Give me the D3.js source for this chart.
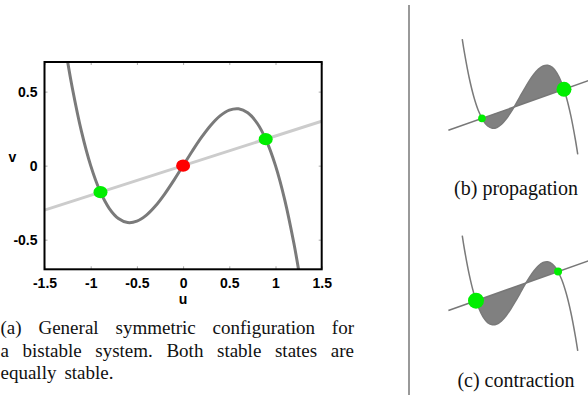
<!DOCTYPE html>
<html>
<head>
<meta charset="utf-8">
<script src="https://cdn.jsdelivr.net/npm/d3@7"></script>
<style>
  html, body { margin: 0; padding: 0; background: #fff; }
  svg { display: block; }
</style>
</head>
<body>
<svg id="fig" width="588" height="399"></svg>
<script>
// ticks
const uTicks = [-1.5, -1, -0.5, 0, 0.5, 1, 1.5];
const vTicks = [-0.5, 0, 0.5];

// cubic nullcline
const curveU = [-1.25, -1.2, -1.1, -1.0, -0.9, -0.8, -0.7, -0.6, -0.5, -0.4, -0.3, -0.2, -0.1, 0,
  0.1, 0.2, 0.3, 0.4, 0.5, 0.6, 0.7, 0.8, 0.9, 1.0, 1.1, 1.2, 1.25];
const curveV = [0.703, 0.528, 0.231, 0, -0.171, -0.288, -0.357, -0.384, -0.375, -0.336, -0.273, -0.192, -0.099, 0,
  0.099, 0.192, 0.273, 0.336, 0.375, 0.384, 0.357, 0.288, 0.171, 0, -0.231, -0.528, -0.703];

// straight nullcline (two end points)
const lineA = [[-1.5, -0.3], [1.5, 0.3]];
const lineB = [[-1.55, -0.41], [1.6, 0.22]];
const lineC = [[-1.55, -0.21], [1.6, 0.42]];

// fixed points
const pointsA = [
  { u: -0.894, v: -0.179, color: '#00ee00' },
  { u: 0, v: 0, color: '#ff0000' },
  { u: 0.894, v: 0.179, color: '#00ee00' }
];
const rootsB = [-0.824, 0.952];
const rootsC = [-0.952, 0.824];
const dotRadiusB = [3.8, 7.5];
const dotRadiusC = [8, 4];

const captionA = ['(a) General symmetric configuration for', 'a bistable system. Both stable states are', 'equally stable.'];
const captionB = '(b) propagation';
const captionC = '(c) contraction';

const svg = d3.select('#fig');
const cubic = curveU.map((u, i) => ({ u, v: curveV[i] }));

// ---------- panel (a) ----------
const x = d3.scaleLinear().domain([-1.5, 1.5]).range([44.5, 321.7]);
const y = d3.scaleLinear().domain([-0.7, 0.7]).range([269.3, 62]);

svg.append('clipPath').attr('id', 'clipA')
  .append('rect')
  .attr('x', x(-1.5)).attr('y', y(0.7))
  .attr('width', x(1.5) - x(-1.5)).attr('height', y(-0.7) - y(0.7));

const plotA = svg.append('g').attr('clip-path', 'url(#clipA)');

plotA.append('path')
  .datum(lineA)
  .attr('d', d3.line().x((d) => x(d[0])).y((d) => y(d[1])))
  .attr('fill', 'none')
  .attr('stroke', '#cccccc')
  .attr('stroke-width', 3);

plotA.append('path')
  .datum(cubic)
  .attr('d', d3.line().x((d) => x(d.u)).y((d) => y(d.v)).curve(d3.curveCatmullRom.alpha(0.5)))
  .attr('fill', 'none')
  .attr('stroke', '#7a7a7a')
  .attr('stroke-width', 3);

plotA.selectAll('.fp')
  .data(pointsA)
  .join('ellipse')
  .attr('class', 'fp')
  .attr('cx', (d) => x(d.u))
  .attr('cy', (d) => y(d.v))
  .attr('rx', 7)
  .attr('ry', 6.2)
  .attr('fill', (d) => d.color);

const tickText = (d) => String(d);

function styleAxis(g, showText) {
  g.select('.domain').remove();
  g.selectAll('.tick line').attr('stroke', '#aaaaaa').attr('stroke-width', 1);
  g.selectAll('.tick text')
    .attr('fill', '#000')
    .attr('font-family', '"Liberation Sans", Arial, sans-serif')
    .attr('font-weight', 'bold')
    .attr('font-size', 14)
    .style('display', showText ? null : 'none');
}

svg.append('g')
  .attr('transform', `translate(0,${y(-0.7)})`)
  .call(d3.axisBottom(x).tickValues(uTicks).tickSize(-3).tickPadding(8.5).tickFormat(tickText))
  .call((g) => styleAxis(g, true));

svg.append('g')
  .attr('transform', `translate(0,${y(0.7)})`)
  .call(d3.axisTop(x).tickValues(uTicks).tickSize(-3))
  .call((g) => styleAxis(g, false));

svg.append('g')
  .attr('transform', `translate(${x(-1.5)},0)`)
  .call(d3.axisLeft(y).tickValues(vTicks).tickSize(-3).tickPadding(7).tickFormat(tickText))
  .call((g) => styleAxis(g, true));

svg.append('g')
  .attr('transform', `translate(${x(1.5)},0)`)
  .call(d3.axisRight(y).tickValues(vTicks).tickSize(-3))
  .call((g) => styleAxis(g, false));

svg.append('rect')
  .attr('x', x(-1.5)).attr('y', y(0.7))
  .attr('width', x(1.5) - x(-1.5)).attr('height', y(-0.7) - y(0.7))
  .attr('fill', 'none')
  .attr('stroke', '#000')
  .attr('stroke-width', 2);

const sansBold = (sel) => sel
  .attr('font-family', '"Liberation Sans", Arial, sans-serif')
  .attr('font-weight', 'bold')
  .attr('font-size', 14)
  .attr('text-anchor', 'middle');

svg.append('text').attr('x', x(0)).attr('y', 304).text('u').call(sansBold);
svg.append('text').attr('x', 12.5).attr('y', 162).text('v').call(sansBold);

// justified caption for (a)
const serif = '"Liberation Serif", "Times New Roman", serif';
const capLeft = 0.5;
const capRight = 354;
const capBase = [334, 356.5, 378.5];
captionA.forEach((line, li) => {
  const words = line.split(' ');
  const g = svg.append('g');
  const nodes = words.map((w) => g.append('text')
    .attr('font-family', serif)
    .attr('font-size', 19)
    .attr('fill', '#111')
    .attr('y', capBase[li])
    .text(w));
  const widths = nodes.map((n) => n.node().getComputedTextLength());
  const total = d3.sum(widths);
  const last = li === captionA.length - 1;
  const gap = last ? 8 : (capRight - capLeft - total) / (words.length - 1);
  let cx = capLeft;
  nodes.forEach((n, i) => {
    n.attr('x', cx);
    cx += widths[i] + gap;
  });
});

// separator
svg.append('line')
  .attr('x1', 409).attr('x2', 409)
  .attr('y1', 5).attr('y2', 395)
  .attr('stroke', '#555')
  .attr('stroke-width', 1.2);

// ---------- panels (b) and (c) ----------
const xs = d3.scaleLinear().domain([-1.5, 1.5]).range([450.7, 589.3]);

function drawSmall(top, lineEnds, roots, radii, caption, capY) {
  const ys = d3.scaleLinear().domain([-0.7, 0.7]).range([top + 114.8, top]);
  const lineV = d3.scaleLinear().domain(lineEnds.map((d) => d[0])).range(lineEnds.map((d) => d[1]));
  const g = svg.append('g');

  const between = [{ u: roots[0], v: lineV(roots[0]) }]
    .concat(cubic.filter((d) => d.u > roots[0] + 0.01 && d.u < roots[1] - 0.01))
    .concat([{ u: roots[1], v: lineV(roots[1]) }]);

  g.append('path')
    .datum(between)
    .attr('d', d3.area()
      .x((d) => xs(d.u))
      .y0((d) => ys(lineV(d.u)))
      .y1((d) => ys(d.v))
      .curve(d3.curveCatmullRom.alpha(0.5)))
    .attr('fill', '#808080');

  g.append('path')
    .datum(lineEnds)
    .attr('d', d3.line().x((d) => xs(d[0])).y((d) => ys(d[1])))
    .attr('fill', 'none')
    .attr('stroke', '#777')
    .attr('stroke-width', 1.5);

  g.append('path')
    .datum(cubic)
    .attr('d', d3.line().x((d) => xs(d.u)).y((d) => ys(d.v)).curve(d3.curveCatmullRom.alpha(0.5)))
    .attr('fill', 'none')
    .attr('stroke', '#7a7a7a')
    .attr('stroke-width', 1.5);

  g.selectAll('circle')
    .data(roots)
    .join('circle')
    .attr('cx', (d) => xs(d))
    .attr('cy', (d) => ys(lineV(d)))
    .attr('r', (d, i) => radii[i])
    .attr('fill', '#00ee00');

  g.append('text')
    .attr('x', 516)
    .attr('y', capY)
    .attr('text-anchor', 'middle')
    .attr('font-family', serif)
    .attr('font-size', 20)
    .attr('fill', '#111')
    .text(caption);
}

drawSmall(39.3, lineB, rootsB, dotRadiusB, captionB, 195);
drawSmall(235.9, lineC, rootsC, dotRadiusC, captionC, 386.5);
</script>
</body>
</html>
